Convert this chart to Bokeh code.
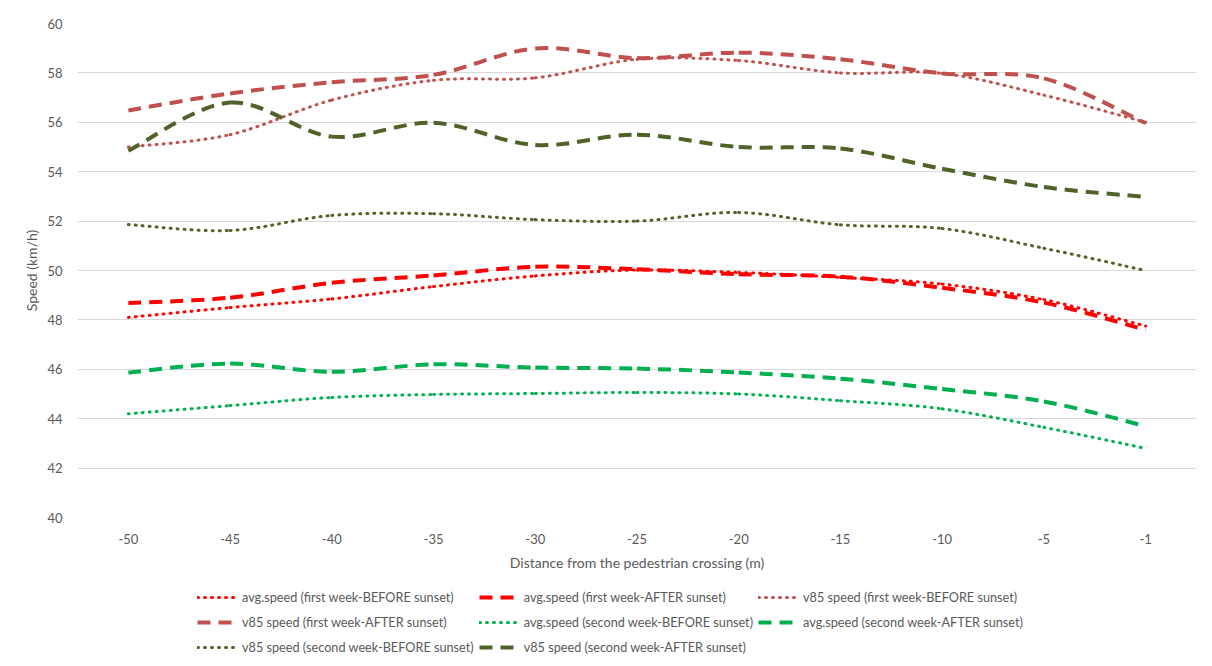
import numpy as np
from bokeh.plotting import figure
from bokeh.layouts import column
from bokeh.models import Range1d, FixedTicker, Legend, LegendItem
from bokeh.embed import file_html
from bokeh.resources import INLINE

# ---------------- data ----------------
distances = ["-50", "-45", "-40", "-35", "-30", "-25", "-20", "-15", "-10", "-5", "-1"]

avg_first_before = [48.1, 48.5, 48.85, 49.35, 49.78, 50.02, 49.92, 49.72, 49.45, 48.82, 47.75]
avg_first_after = [48.68, 48.9, 49.5, 49.8, 50.15, 50.05, 49.85, 49.75, 49.3, 48.7, 47.6]
v85_first_before = [55.0, 55.5, 56.9, 57.7, 57.8, 58.55, 58.5, 58.0, 57.98, 57.1, 56.0]
v85_first_after = [56.48, 57.17, 57.62, 57.92, 58.99, 58.6, 58.82, 58.55, 57.98, 57.78, 55.97]
avg_second_before = [44.2, 44.53, 44.86, 44.98, 45.02, 45.06, 45.0, 44.73, 44.4, 43.65, 42.8]
avg_second_after = [45.87, 46.23, 45.9, 46.2, 46.07, 46.03, 45.87, 45.62, 45.2, 44.7, 43.7]
v85_second_before = [51.86, 51.62, 52.23, 52.3, 52.06, 52.0, 52.35, 51.85, 51.7, 50.9, 50.0]
v85_second_after = [54.85, 56.8, 55.42, 55.98, 55.08, 55.5, 55.0, 54.94, 54.12, 53.38, 52.98]

labels = [
    "avg.speed (first week-BEFORE sunset)",
    "avg.speed (first week-AFTER sunset)",
    "v85 speed (first week-BEFORE sunset)",
    "v85 speed (first week-AFTER sunset)",
    "avg.speed (second week-BEFORE sunset)",
    "avg.speed (second week-AFTER sunset)",
    "v85 speed (second week-BEFORE sunset)",
    "v85 speed (second week-AFTER sunset)",
]
series = [avg_first_before, avg_first_after, v85_first_before, v85_first_after,
          avg_second_before, avg_second_after, v85_second_before, v85_second_after]

# ---------------- styles ----------------
colors = ["#FF0000", "#FF0000", "#C0504D", "#C0504D",
          "#00B050", "#00B050", "#4F6228", "#4F6228"]
dotted = dict(line_width=3, line_dash="1 6", line_cap="round")
dashed = dict(line_width=4, line_dash="13 8", line_cap="butt")
styles = [dotted, dashed] * 4

FONT = "Lato"
TXT = "#595959"

# ---------------- main chart ----------------
p = figure(width=1204, height=587, output_backend="svg", toolbar_location=None,
           x_range=Range1d(-0.5, 10.5), y_range=Range1d(40, 60),
           min_border_left=77, min_border_right=8, min_border_top=23, min_border_bottom=70)
p.outline_line_color = None
p.background_fill_color = "white"
p.border_fill_color = "white"

xs = np.arange(len(distances), dtype=float)
for vals, col, st in zip(series, colors, styles):
    y = np.asarray(vals, dtype=float)
    n = len(y)
    yp = np.concatenate([[y[0]], y, [y[-1]]])
    xp = np.concatenate([[xs[0]], xs, [xs[-1]]])
    x0, y0 = xs[:-1], y[:-1]
    x1, y1 = xs[1:], y[1:]
    cx0 = x0 + (xp[2:n + 1] - xp[0:n - 1]) / 6.0
    cy0 = y0 + (yp[2:n + 1] - yp[0:n - 1]) / 6.0
    cx1 = x1 - (xp[3:n + 2] - xp[1:n]) / 6.0
    cy1 = y1 - (yp[3:n + 2] - yp[1:n]) / 6.0
    p.bezier(x0=x0, y0=y0, x1=x1, y1=y1, cx0=cx0, cy0=cy0, cx1=cx1, cy1=cy1,
             line_color=col, **st)

xa = p.xaxis[0]
xa.ticker = FixedTicker(ticks=list(range(len(distances))))
xa.major_label_overrides = {i: d for i, d in enumerate(distances)}
xa.axis_label = "Distance from the pedestrian crossing (m)"
ya = p.yaxis[0]
ya.ticker = FixedTicker(ticks=list(range(40, 61, 2)))
ya.axis_label = "Speed (km/h)"
for ax in (xa, ya):
    ax.axis_line_color = None
    ax.major_tick_line_color = None
    ax.minor_tick_line_color = None
    ax.major_label_text_font = FONT
    ax.major_label_text_font_size = "13px"
    ax.major_label_text_color = TXT
    ax.axis_label_text_font = FONT
    ax.axis_label_text_font_size = "14px"
    ax.axis_label_text_font_style = "normal"
    ax.axis_label_text_color = TXT
xa.major_label_standoff = 10
xa.axis_label_standoff = 7
ya.major_label_standoff = 9
ya.axis_label_standoff = 4

p.xgrid.grid_line_color = None
p.ygrid.grid_line_color = "#D9D9D9"
p.ygrid.grid_line_width = 1

# ---------------- legend strip ----------------
q = figure(width=1204, height=71, output_backend="svg", toolbar_location=None,
           x_range=Range1d(100, 101), y_range=Range1d(100, 101),
           x_axis_type=None, y_axis_type=None,
           min_border_left=0, min_border_right=0, min_border_top=0, min_border_bottom=0)
q.outline_line_color = None
q.background_fill_color = "white"
q.border_fill_color = "white"

items = []
for vals, col, st, lab in zip(series, colors, styles, labels):
    r = q.line(x=xs, y=vals, line_color=col, **st)
    items.append(LegendItem(label=lab, renderers=[r]))

legend = Legend(items=items, orientation="horizontal", ncols=3,
                location=(120, 1), border_line_color=None,
                background_fill_alpha=0, padding=0, margin=0, spacing=5,
                glyph_width=40, glyph_height=20, label_height=20,
                label_standoff=5,
                label_text_font=FONT, label_text_font_size="12.7px",
                label_text_color=TXT)
q.add_layout(legend, "center")

layout = column(p, q, spacing=0)
open("out.html", "w").write(file_html(layout, INLINE))
